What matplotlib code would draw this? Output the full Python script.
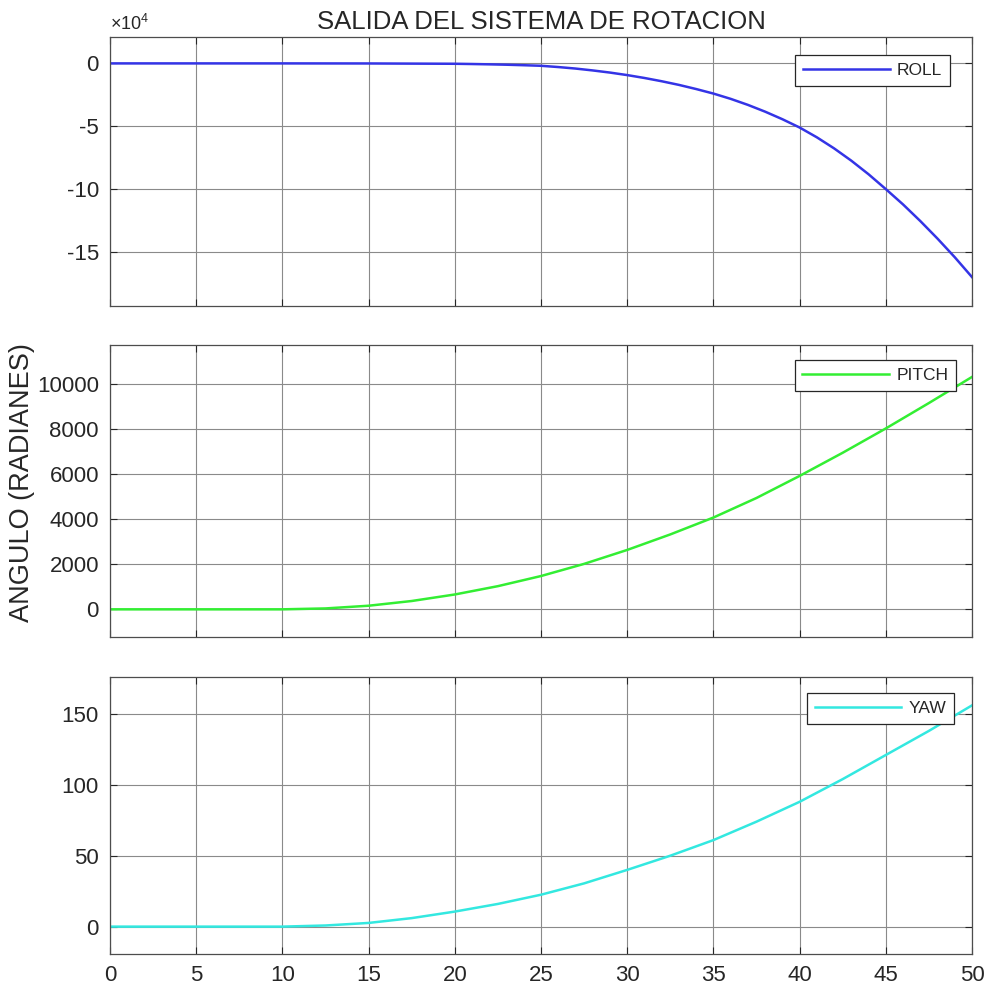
import numpy as np
import matplotlib
matplotlib.use('Agg')
import matplotlib.pyplot as plt
from matplotlib.ticker import FuncFormatter

plt.rcParams['font.family'] = ['Liberation Sans', 'DejaVu Sans']
plt.rcParams['mathtext.fontset'] = 'custom'
plt.rcParams['mathtext.rm'] = 'Liberation Sans'
plt.rcParams['axes.unicode_minus'] = False

# ROLL: tiempo y salida
t_roll = [0, 5, 10, 15, 20, 21, 22, 23, 24, 25, 26, 27, 28, 29, 30, 31, 32,
          33, 34, 35, 36, 37, 38, 39, 40, 41, 42, 43, 44, 45, 46, 47, 48,
          49, 50]
roll = [0, 0, 0, -50, -300, -500, -750, -1050, -1450, -1900, -2900, -4100,
        -5600, -7300, -9300, -11600, -14200, -17100, -20400, -24000, -28200,
        -33000, -38400, -44400, -51000, -58800, -67600, -77400, -88200,
        -100000, -112200, -125400, -139400, -154200, -170000]

# PITCH y YAW
t_py = [0, 5, 10, 12.5, 15, 17.5, 20, 22.5, 25, 27.5, 30, 32.5, 35, 37.5,
        40, 42.5, 45, 47.5, 50]
pitch = [0, 0, 0, 40, 160, 370, 660, 1030, 1480, 2020, 2640, 3330, 4080,
         4950, 5930, 6960, 8040, 9170, 10330]
yaw = [0, 0, 0, 0.8, 2.6, 6, 10.6, 16, 22.5, 30.5, 40, 50, 61, 74, 88,
       104, 121, 138, 156]

W, H = 990, 994
fig = plt.figure(figsize=(W / 100, H / 100), dpi=100)

GRIS = '#262626'
TICK_FS = 16

def crear_eje(top, bottom):
    ax = fig.add_axes([110 / W, 1 - bottom / H, 862 / W, (bottom - top) / H])
    ax.set_xlim(0, 50)
    ax.set_xticks(np.arange(0, 51, 5))
    ax.grid(True, color='#8a8a8a', linewidth=0.8)
    ax.tick_params(direction='in', length=5, width=0.8, top=True, right=True,
                   labelsize=TICK_FS, colors=GRIS, pad=8)
    for s in ax.spines.values():
        s.set_color('#4d4d4d')
        s.set_linewidth(0.9)
    return ax

def leyenda(ax, dx, dy, h):
    leg = ax.legend(loc='upper right', bbox_to_anchor=(1 - dx / 862, 1 - dy / h),
                    borderaxespad=0, fontsize=12.5, handlelength=5.0,
                    handletextpad=0.4, borderpad=0.45, fancybox=False,
                    framealpha=1, edgecolor=GRIS)
    leg.get_frame().set_linewidth(0.9)
    for t in leg.get_texts():
        t.set_color(GRIS)

# ROLL
ax1 = crear_eje(37, 306)
ax1.plot(t_roll, roll, color='#3434e6', linewidth=1.8, label='ROLL')
ax1.set_ylim(-193000, 21000)
ax1.set_yticks([-150000, -100000, -50000, 0])
ax1.yaxis.set_major_formatter(FuncFormatter(lambda v, p: f'{v / 1e4:g}'))
ax1.text(0, 1.01, r'$\times 10^4$', transform=ax1.transAxes, fontsize=13,
         color=GRIS, ha='left', va='bottom')
ax1.tick_params(labelbottom=False)
ax1.set_title('SALIDA DEL SISTEMA DE ROTACION', fontsize=18.5, color=GRIS, pad=6)
leyenda(ax1, 22, 18, 269)

# PITCH
ax2 = crear_eje(345, 637)
ax2.plot(t_py, pitch, color='#33ee33', linewidth=1.8, label='PITCH')
ax2.set_ylim(-1230, 11750)
ax2.set_yticks(np.arange(0, 10001, 2000))
ax2.tick_params(labelbottom=False)
leyenda(ax2, 16, 15, 292)

# YAW
ax3 = crear_eje(677, 954)
ax3.plot(t_py, yaw, color='#33e8e0', linewidth=1.8, label='YAW')
ax3.set_ylim(-19.3, 176)
ax3.set_yticks([0, 50, 100, 150])
leyenda(ax3, 18, 16, 277)

fig.text(22 / W, 1 - 483 / H, 'ANGULO (RADIANES)', rotation=90,
         ha='center', va='center', fontsize=19.5, color=GRIS)

fig.savefig('out.png', dpi=100)
